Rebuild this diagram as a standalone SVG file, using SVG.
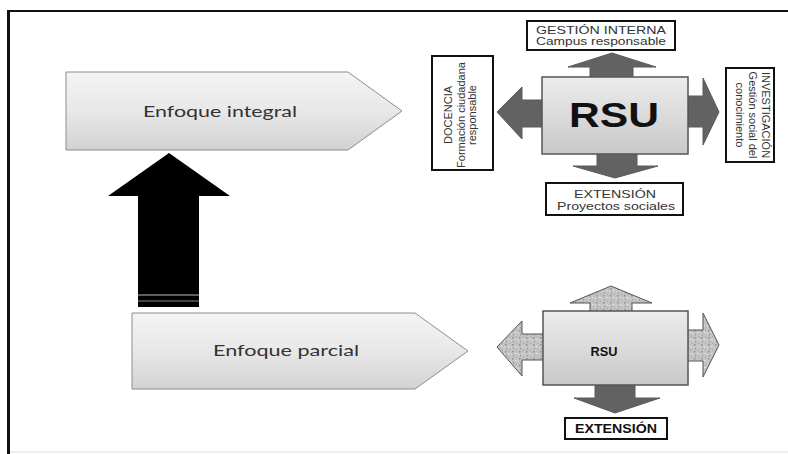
<svg xmlns="http://www.w3.org/2000/svg" width="788" height="454" viewBox="0 0 788 454">
<defs>
<linearGradient id="penta" x1="0" y1="0" x2="0" y2="1">
<stop offset="0" stop-color="#f4f4f4"/>
<stop offset="0.5" stop-color="#e8e8e8"/>
<stop offset="1" stop-color="#d2d2d2"/>
</linearGradient>
<linearGradient id="box" x1="0" y1="0" x2="0" y2="1">
<stop offset="0" stop-color="#ececec"/>
<stop offset="1" stop-color="#c9c9c9"/>
</linearGradient>
<pattern id="speck" width="7" height="7" patternUnits="userSpaceOnUse">
<rect width="7" height="7" fill="#c3c3c3"/>
<rect x="1" y="1" width="1.5" height="1.5" fill="#8f8f8f"/>
<rect x="4" y="3" width="1.5" height="1" fill="#e6e6e6"/>
<rect x="2" y="5" width="1" height="1.5" fill="#9a9a9a"/>
<rect x="5" y="0" width="1" height="1" fill="#a5a5a5"/>
<rect x="0" y="4" width="1" height="1" fill="#e0e0e0"/>
</pattern>
<style>
.penta{fill:url(#penta);stroke:#8c8c8c;stroke-width:1}
.rsu{fill:url(#box);stroke:#555;stroke-width:1.5}
.dark{fill:#626262;stroke:#5a5a5a;stroke-width:1}
.speck{fill:url(#speck);stroke:#555;stroke-width:1}
.lbl{fill:#fff;stroke:#111;stroke-width:2}
.t{font-family:"Liberation Sans",Arial,sans-serif;font-size:11px;fill:#333;text-anchor:middle}
.enf{font-family:Lato,"Open Sans",sans-serif;font-size:15px;fill:#333;text-anchor:middle}
.b{font-family:"Liberation Sans",Arial,sans-serif;font-weight:bold;fill:#111;text-anchor:middle}
</style>
</defs>
<rect width="788" height="454" fill="#fff"/>
<g id="frame">
<line x1="8" y1="11" x2="788" y2="11" stroke="#111" stroke-width="2"/>
<line x1="8.5" y1="10" x2="8.5" y2="454" stroke="#111" stroke-width="3"/>
<line x1="10" y1="452" x2="788" y2="452" stroke="#ddd" stroke-width="1"/>
</g>
<g id="enfoque-integral">
<polygon class="penta" points="66,72 348,72 402,111 348,150 66,150"/>
<text class="enf" x="220" y="117" textLength="154" lengthAdjust="spacingAndGlyphs">Enfoque integral</text>
</g>
<g id="enfoque-parcial">
<polygon class="penta" points="132,313 415,313 468,351 415,389 132,389"/>
<text class="enf" x="286" y="356" textLength="146" lengthAdjust="spacingAndGlyphs">Enfoque parcial</text>
</g>
<g id="connectors">
<g id="big-arrow">
<polygon points="169,153 230,196 199,196 199,307 138,307 138,196 108,196" fill="#000"/>
<line x1="138" y1="295" x2="199" y2="295" stroke="#bbb" stroke-width="1"/>
<line x1="138" y1="301" x2="199" y2="301" stroke="#888" stroke-width="1"/>
</g>
<g id="top-arrows">
<polygon class="dark" points="612,53 656,67 633,67 633,78 590,78 590,67 568,67"/>
<polygon class="dark" points="497,112 522,87 522,100 543,100 543,127 522,127 522,139"/>
<polygon class="dark" points="688,96 703,96 703,78 719,112 703,145 703,127 688,127"/>
<polygon class="dark" points="597,153 637,153 637,166 658,166 615,178 573,166 597,166"/>
</g>
<g id="bottom-arrows">
<polygon class="speck" points="611,286 652,303 632,303 632,312 590,312 590,303 570,303"/>
<polygon class="speck" points="497,347 522,321 522,334 544,334 544,360 522,360 522,376"/>
<polygon class="speck" points="687,330 703,330 703,313 719,345 703,377 703,361 687,361"/>
<polygon class="dark" points="595,384 635,384 635,398 660,398 615,413 574,398 595,398"/>
</g>
</g>
<g id="rsu-top">
<rect class="rsu" x="542" y="77" width="146" height="77"/>
<text class="b" x="614" y="127" font-size="35" textLength="90" lengthAdjust="spacingAndGlyphs">RSU</text>
</g>
<g id="gestion-interna">
<rect class="lbl" x="527" y="21" width="148" height="29"/>
<text class="t" x="601" y="34" textLength="130" lengthAdjust="spacingAndGlyphs">GESTIÓN INTERNA</text>
<text class="t" x="601" y="45" textLength="130" lengthAdjust="spacingAndGlyphs">Campus responsable</text>
</g>
<g id="docencia">
<rect class="lbl" x="432" y="56" width="61" height="114"/>
<text class="t" transform="translate(452,115) rotate(-90)">DOCENCIA</text>
<text class="t" transform="translate(465,115) rotate(-90)">Formación ciudadana</text>
<text class="t" transform="translate(476,115) rotate(-90)">responsable</text>
</g>
<g id="investigacion">
<rect class="lbl" x="726" y="68" width="48" height="94"/>
<text class="t" transform="translate(762,115) rotate(90)">INVESTIGACIÓN</text>
<text class="t" transform="translate(749,115) rotate(90)">Gestión social del</text>
<text class="t" transform="translate(736,115) rotate(90)">conocimiento</text>
</g>
<g id="extension-top">
<rect class="lbl" x="546" y="183" width="137" height="32"/>
<text class="t" x="615" y="198" textLength="82" lengthAdjust="spacingAndGlyphs">EXTENSIÓN</text>
<text class="t" x="616" y="210" textLength="118" lengthAdjust="spacingAndGlyphs">Proyectos sociales</text>
</g>
<g id="rsu-bottom">
<rect class="rsu" x="543" y="311" width="145" height="74"/>
<text class="b" x="604" y="356" font-size="13" textLength="27" lengthAdjust="spacingAndGlyphs">RSU</text>
</g>
<g id="extension-bottom">
<rect class="lbl" x="565" y="418" width="102" height="21"/>
<text class="b" x="616" y="433" font-size="12" fill="#222" textLength="82" lengthAdjust="spacingAndGlyphs">EXTENSIÓN</text>
</g>
</svg>
